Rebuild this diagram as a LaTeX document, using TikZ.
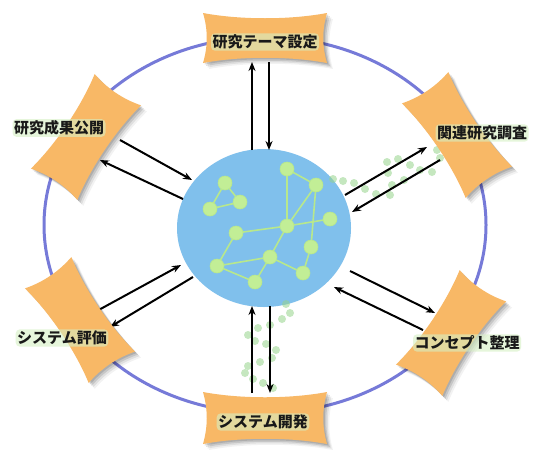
\documentclass[tikz,border=0pt]{standalone}
\usepackage{fontspec}
\newfontfamily\jp{Noto Sans CJK JP}
\usetikzlibrary{arrows.meta}

\definecolor{ringblue}{RGB}{118,122,216}
\definecolor{boxfill}{RGB}{248,184,102}
\definecolor{globe}{RGB}{128,192,236}
\definecolor{leaf}{RGB}{194,238,150}
\definecolor{leafline}{RGB}{184,232,140}
\definecolor{trail}{RGB}{150,212,140}
\definecolor{glow}{RGB}{214,240,196}

\pgfdeclarelayer{back}
\pgfdeclarelayer{links}
\pgfsetlayers{back,links,main}

% outline of a label plate: a rectangle with gently concave sides
% #1 = half length, #2 = half width
\newcommand\boxoutline[2]{(-#1,-#2) .. controls (-#1*0.4,-#2+7) and (#1*0.4,-#2+7) .. (#1,-#2)
  .. controls (#1-5,-#2*0.33) and (#1-5,#2*0.33) .. (#1,#2)
  .. controls (#1*0.4,#2-7) and (-#1*0.4,#2-7) .. (-#1,#2)
  .. controls (-#1+5,#2*0.33) and (-#1+5,-#2*0.33) .. (-#1,-#2) -- cycle}

% plate with a soft drop shadow: centre x, centre y, angle, half length, half width
\newcommand\tagbox[5]{%
  \foreach \sh/\al in {6/0.05,4.5/0.08,3/0.11,1.5/0.12}{
    \fill[black,opacity=\al,shift={(#1+\sh,#2+\sh)},rotate=#3] \boxoutline{#4}{#5};}
  \fill[boxfill,shift={(#1,#2)},rotate=#3] \boxoutline{#4}{#5};}

\tikzset{
  lbl/.style={font=\jp\bfseries\fontsize{15}{18}\selectfont, text=black!90,
    fill=glow, fill opacity=0.6, text opacity=1, rounded corners=4pt, inner sep=1.5pt},
  arr/.style={line width=2pt, -{Stealth[length=9pt,width=7pt]}},
  dot/.style={circle, fill=leaf, draw=leafline, line width=0.6pt, minimum size=14pt, inner sep=0pt},
  link/.style={leafline, line width=1.6pt},
  crumb/.style={fill=trail, opacity=0.55}
}

\begin{document}
\begin{tikzpicture}[x=1pt,y=-1pt]
\begin{pgfonlayer}{back}
\fill[white] (0,0) rectangle (534,450);
% outer cycle
\draw[ringblue, line width=3pt] (265,225) ellipse [x radius=221, y radius=188];
% central globe
\fill[globe] (264,228) ellipse [x radius=87, y radius=79];
\end{pgfonlayer}
\useasboundingbox (0,0) rectangle (534,450);

% network inside the globe
\node[dot] (n1) at (225,183) {};
\node[dot] (n2) at (240,202) {};
\node[dot] (n3) at (210,209) {};
\node[dot] (n4) at (287,169) {};
\node[dot] (n5) at (316,185) {};
\node[dot] (n6) at (287,226) {};
\node[dot] (n7) at (330,219) {};
\node[dot] (n8) at (236,233) {};
\node[dot] (n9) at (311,247) {};
\node[dot] (n10) at (270,257) {};
\node[dot] (n11) at (217,266) {};
\node[dot] (n12) at (255,282) {};
\node[dot] (n13) at (303,273) {};
\begin{pgfonlayer}{links}
\foreach \a/\b in {n1/n2,n2/n3,n3/n1,n4/n5,n4/n6,n5/n6,n5/n9,n6/n7,n8/n6,n6/n10,
                   n10/n11,n11/n8,n11/n12,n12/n10,n10/n13,n13/n9}
  \draw[link] (\a.center) -- (\b.center);
\end{pgfonlayer}

% trails of small dots
\foreach \x/\y in {333/179,343/181,354/183,365/189,376/194,390/195,392/185,388/173,
                   387/162,398/159,410/165,420/170,432/172,440/158,437/150,404/180}
  \fill[crumb] (\x,\y) circle (4);
\foreach \x/\y in {286/304,290/313,282/319,270/325,258/328,248/335,255/341,266/344,
                   276/350,272/358,260/362,248/366,245/373,253/379,263/383,273/388}
  \fill[crumb] (\x,\y) circle (4);

% arrow end points
\coordinate (t1) at (252,150); \coordinate (t2) at (252,62);
\coordinate (t3) at (269,62);  \coordinate (t4) at (269,150);
\coordinate (b1) at (252,393); \coordinate (b2) at (252,306);
\coordinate (b3) at (270,306); \coordinate (b4) at (270,393);
\coordinate (ul1) at (120,140); \coordinate (ul2) at (192,180);
\coordinate (ul3) at (183,199); \coordinate (ul4) at (100,160);
\coordinate (ll1) at (95,312);  \coordinate (ll2) at (181,265);
\coordinate (ll3) at (193,277); \coordinate (ll4) at (110,327);
\coordinate (lr1) at (350,271); \coordinate (lr2) at (435,313);
\coordinate (lr3) at (423,330); \coordinate (lr4) at (334,287);
\coordinate (ur1) at (345,195); \coordinate (ur2) at (427,147);
\coordinate (ur3) at (440,160); \coordinate (ur4) at (352,212);

\draw[arr] (t1) -- (t2);   \draw[arr] (t3) -- (t4);
\draw[arr] (b1) -- (b2);   \draw[arr] (b3) -- (b4);
\draw[arr] (ul1) -- (ul2); \draw[arr] (ul3) -- (ul4);
\draw[arr] (ll1) -- (ll2); \draw[arr] (ll3) -- (ll4);
\draw[arr] (lr1) -- (lr2); \draw[arr] (lr3) -- (lr4);
\draw[arr] (ur1) -- (ur2); \draw[arr] (ur3) -- (ur4);

% plates around the cycle
\tagbox{265}{38}{0}{62}{25}
\tagbox{265}{418}{0}{62}{26}
\tagbox{86}{137}{56}{57}{28}
\tagbox{457}{135}{-56}{57}{28}
\tagbox{80}{320}{-56}{57}{28}
\tagbox{451}{333}{56}{57}{28}

% labels
\node[lbl] (theme)   at (265,42)  {研究テーマ設定};
\node[lbl] (dev)     at (263,422) {システム開発};
\node[lbl] (publish) at (59,128)  {研究成果公開};
\node[lbl] (survey)  at (482,133) {関連研究調査};
\node[lbl] (eval)    at (62,338)  {システム評価};
\node[lbl] (concept) at (467,343) {コンセプト整理};
\end{tikzpicture}
\end{document}
